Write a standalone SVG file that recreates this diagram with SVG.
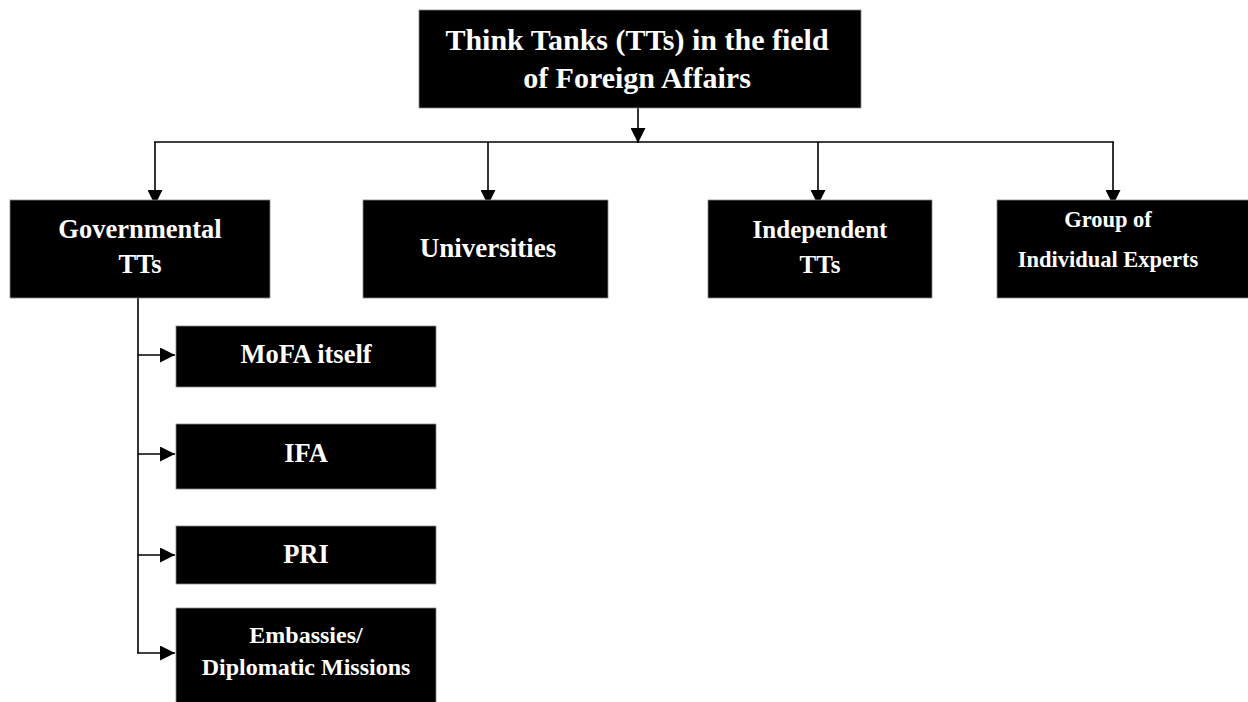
<svg xmlns="http://www.w3.org/2000/svg" width="1248" height="702" viewBox="0 0 1248 702">
  <style>
    .box { fill: #000; stroke: #888; stroke-width: 0.8; }
    .lbl { fill: #fff; font-family: "Liberation Serif", "Times New Roman", serif; font-weight: bold; text-anchor: middle; }
    .wire { fill: none; stroke: #000; stroke-width: 1.6; }
  </style>
  <defs>
    <marker id="head" markerUnits="userSpaceOnUse" markerWidth="16" markerHeight="15" refX="15" refY="7.5" orient="auto">
      <path d="M0,0 L15,7.5 L0,15 Z" fill="#000"/>
    </marker>
  </defs>
  <rect width="1248" height="702" fill="#fff"/>

  <g id="connectors">
    <line class="wire" x1="638" y1="108" x2="638" y2="143" marker-end="url(#head)"/>
    <line class="wire" x1="154" y1="142" x2="1114" y2="142"/>
    <line class="wire" x1="155" y1="142" x2="155" y2="205" marker-end="url(#head)"/>
    <line class="wire" x1="488" y1="142" x2="488" y2="205" marker-end="url(#head)"/>
    <line class="wire" x1="818" y1="142" x2="818" y2="205" marker-end="url(#head)"/>
    <line class="wire" x1="1113" y1="142" x2="1113" y2="205" marker-end="url(#head)"/>
    <polyline class="wire" points="138,298 138,653"/>
    <line class="wire" x1="138" y1="355" x2="175" y2="355" marker-end="url(#head)"/>
    <line class="wire" x1="138" y1="454" x2="175" y2="454" marker-end="url(#head)"/>
    <line class="wire" x1="138" y1="555" x2="175" y2="555" marker-end="url(#head)"/>
    <line class="wire" x1="137" y1="653" x2="175" y2="653" marker-end="url(#head)"/>
  </g>

  <g id="root">
    <rect class="box" x="419" y="10" width="442" height="98"/>
    <text class="lbl" x="637" y="50" font-size="30">Think Tanks (TTs) in the field</text>
    <text class="lbl" x="637" y="88" font-size="30">of Foreign Affairs</text>
  </g>

  <g id="governmental">
    <rect class="box" x="10" y="200" width="260" height="98"/>
    <text class="lbl" x="140" y="238" font-size="26.5">Governmental</text>
    <text class="lbl" x="140" y="273" font-size="26.5">TTs</text>
  </g>

  <g id="universities">
    <rect class="box" x="363" y="200" width="245" height="98"/>
    <text class="lbl" x="488" y="257" font-size="27">Universities</text>
  </g>

  <g id="independent">
    <rect class="box" x="708" y="200" width="224" height="98"/>
    <text class="lbl" x="820" y="238" font-size="25">Independent</text>
    <text class="lbl" x="820" y="273" font-size="25">TTs</text>
  </g>

  <g id="experts">
    <rect class="box" x="997" y="200" width="252" height="98"/>
    <text class="lbl" x="1108" y="227" font-size="22.5">Group of</text>
    <text class="lbl" x="1108" y="267" font-size="22.5">Individual Experts</text>
  </g>

  <g id="mofa">
    <rect class="box" x="176" y="326" width="260" height="61"/>
    <text class="lbl" x="306" y="363" font-size="26.5">MoFA itself</text>
  </g>

  <g id="ifa">
    <rect class="box" x="176" y="424" width="260" height="65"/>
    <text class="lbl" x="306" y="462" font-size="26.5">IFA</text>
  </g>

  <g id="pri">
    <rect class="box" x="176" y="526" width="260" height="58"/>
    <text class="lbl" x="306" y="563" font-size="26.5">PRI</text>
  </g>

  <g id="embassies">
    <rect class="box" x="176" y="608" width="260" height="96"/>
    <text class="lbl" x="306" y="643" font-size="24">Embassies/</text>
    <text class="lbl" x="306" y="675" font-size="24">Diplomatic Missions</text>
  </g>
</svg>
